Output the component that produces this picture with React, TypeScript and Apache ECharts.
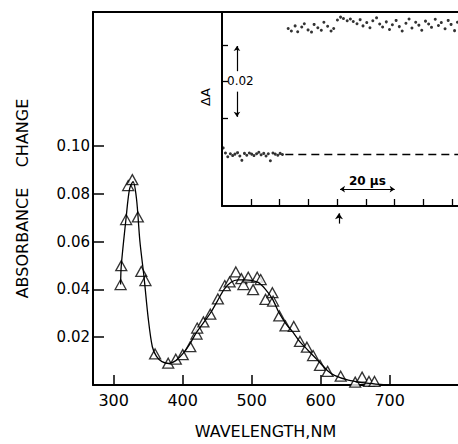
import React, { useEffect, useRef } from "react";
import * as echarts from "echarts";

// Main spectrum: triangles (measured points)
const wlTri = [310, 311, 318, 321, 327, 335, 340, 346, 360, 379, 390, 400, 411, 420, 421, 430, 440, 451, 461, 468, 477, 485, 488, 495, 502, 508, 513, 520, 530, 531, 540, 549, 561, 570, 580, 589, 599, 610, 629, 650, 660, 670, 678];
const absTri = [0.042, 0.0499, 0.0692, 0.0834, 0.0859, 0.0703, 0.0475, 0.0437, 0.013, 0.0091, 0.0108, 0.0127, 0.016, 0.0213, 0.0238, 0.0264, 0.0296, 0.036, 0.0416, 0.0431, 0.0473, 0.0445, 0.042, 0.0451, 0.0399, 0.0451, 0.0441, 0.0358, 0.0386, 0.0351, 0.0289, 0.0247, 0.0245, 0.0182, 0.0158, 0.0123, 0.0082, 0.0057, 0.0037, 0.0012, 0.0033, 0.0015, 0.0015];

// Main spectrum: drawn curve
const wlCurve = [310, 311, 318, 323, 328, 333, 338, 344, 350, 356, 362, 370, 380, 390, 400, 410, 420, 430, 440, 450, 460, 470, 480, 490, 500, 510, 520, 530, 540, 550, 560, 570, 580, 590, 600, 610, 620, 640, 660, 680, 695];
const absCurve = [0.042, 0.05, 0.07, 0.082, 0.085, 0.078, 0.06, 0.045, 0.028, 0.016, 0.012, 0.0098, 0.009, 0.0102, 0.013, 0.017, 0.022, 0.026, 0.030, 0.035, 0.040, 0.043, 0.044, 0.044, 0.0438, 0.0428, 0.040, 0.036, 0.030, 0.0255, 0.022, 0.018, 0.015, 0.012, 0.009, 0.006, 0.004, 0.002, 0.001, 0.0004, 0];

const xTicks = [300, 400, 500, 600, 700];
const yTicks = [0.02, 0.04, 0.06, 0.08, 0.1];

// Inset: transient trace (time in microseconds, delta A)
const baseT = [0.4, 1.2, 2.0, 2.9, 3.7, 4.5, 5.4, 6.2, 6.9, 7.8, 8.6, 9.5, 10.3, 11.1, 12.0, 12.8, 13.6, 14.5, 15.3, 16.1, 16.8, 17.7, 18.5, 19.4, 20.2, 21.0];
const baseV = [0.0018, 0.0004, -0.0006, 0.0002, -0.0003, 0.0001, 0.0005, -0.0004, -0.0016, 0.0003, -0.0002, 0.0004, 0.0001, -0.0003, 0.0002, 0.0006, -0.0001, 0.0003, -0.0004, 0.0002, -0.0017, 0.0004, 0.0001, -0.0002, 0.0003, 0.0];
const stepT = [23, 24.1, 25.4, 26.3, 27.7, 28.6, 29.9, 31.1, 32.0, 33.3, 34.5, 35.4, 36.7, 37.9, 38.8, 40.1, 41.2, 42.2, 43.5, 44.6, 45.6, 46.9, 48.0, 49.0, 50.3, 51.4, 52.4, 53.7, 54.8, 55.8, 57.1, 58.2, 59.2, 60.5, 61.6, 62.6, 63.9, 65.0, 66.0, 67.3, 68.4, 69.4, 70.7, 71.8, 72.8, 74.1, 75.2, 76.2, 77.5, 78.6, 79.6, 80.8, 81.8];
const stepV = [0.0345, 0.0338, 0.0352, 0.0336, 0.0349, 0.0358, 0.0341, 0.0335, 0.0356, 0.0347, 0.034, 0.0362, 0.0351, 0.0338, 0.0345, 0.0368, 0.0376, 0.0372, 0.0366, 0.0371, 0.0364, 0.0358, 0.0369, 0.0352, 0.0361, 0.0347, 0.0366, 0.0374, 0.0357, 0.0349, 0.0363, 0.0342, 0.0355, 0.0367, 0.035, 0.0338, 0.0359, 0.0371, 0.0346, 0.0362, 0.0354, 0.034, 0.0365, 0.0357, 0.0348, 0.037, 0.0353, 0.0361, 0.0344, 0.0367, 0.0356, 0.0339, 0.0362];
const dashT = [22, 82];
const dashV = [0, 0];
const insetYTicks = [0.01, 0.02, 0.03];
const insetXTicks = [10, 20, 30, 40, 50, 60, 70, 80];

const FONT = "DejaVu Sans";

export default function App() {
  const ref = useRef<HTMLDivElement>(null);
  useEffect(() => {
    if (!ref.current) return;
    const chart = echarts.init(ref.current, undefined, { renderer: "svg" });
    const axisLine = { show: true, onZero: false, lineStyle: { color: "#000", width: 2 } };
    const option: any = {
      animation: false,
      backgroundColor: "#fff",
      grid: [
        { left: 93, top: 12, right: 0, bottom: 56 },
        { left: 222, top: 12, right: 0, bottom: 238 },
      ],
      xAxis: [
        {
          type: "value", gridIndex: 0, min: 270, max: 799,
          axisLine,
          axisTick: { show: true, inside: true, length: 10, customValues: xTicks, lineStyle: { color: "#000", width: 1.5 } },
          axisLabel: { customValues: xTicks, color: "#000", fontFamily: FONT, fontSize: 16, margin: 7 },
          splitLine: { show: false },
          name: "WAVELENGTH,NM", nameLocation: "middle", nameGap: 38,
          nameTextStyle: { color: "#000", fontFamily: FONT, fontSize: 16, padding: [0, 20, 0, 0] },
        },
        {
          type: "value", gridIndex: 0, min: 270, max: 799, position: "top",
          axisLine, axisTick: { show: false }, axisLabel: { show: false }, splitLine: { show: false },
        },
        {
          type: "value", gridIndex: 1, min: 0, max: 82,
          axisLine,
          axisTick: { show: true, inside: true, length: 7, customValues: insetXTicks, lineStyle: { color: "#000", width: 1.3 } },
          axisLabel: { show: false },
          splitLine: { show: false },
        },
      ],
      yAxis: [
        {
          type: "value", gridIndex: 0, min: 0, max: 0.156,
          axisLine,
          axisTick: { show: true, inside: true, length: 11, customValues: yTicks, lineStyle: { color: "#000", width: 1.5 } },
          axisLabel: { customValues: yTicks, color: "#000", fontFamily: FONT, fontSize: 15, margin: 3, formatter: (v: number) => v.toFixed(2) },
          splitLine: { show: false },
          name: "ABSORBANCE    CHANGE", nameLocation: "middle", nameGap: 63, nameRotate: 90,
          nameTextStyle: { color: "#000", fontFamily: FONT, fontSize: 16 },
        },
        {
          type: "value", gridIndex: 1, min: -0.0141, max: 0.039,
          axisLine,
          axisTick: { show: true, inside: true, length: 6, customValues: insetYTicks, lineStyle: { color: "#000", width: 1.3 } },
          axisLabel: { inside: true, customValues: [0.02], color: "#000", fontFamily: FONT, fontSize: 12, margin: 5, formatter: (v: number) => v.toFixed(2) },
          splitLine: { show: false },
        },
      ],
      graphic: [
        {
          type: "text", x: 205, y: 97, rotation: Math.PI / 2,
          style: { text: "ΔA", fill: "#000", font: `13px "${FONT}"`, textAlign: "center", textVerticalAlign: "middle" },
        },
      ],
      series: [
        {
          type: "line", xAxisIndex: 0, yAxisIndex: 0,
          data: wlCurve.map((w, i) => [w, absCurve[i]]),
          smooth: 0.3, showSymbol: false,
          lineStyle: { color: "#000", width: 1.3 },
          markLine: {
            silent: true, symbol: ["none", "arrow"], symbolSize: 6,
            label: { show: false },
            lineStyle: { color: "#000", width: 1.2, type: "solid" },
            data: [[{ coord: [626.5, 0.0675] }, { coord: [626.5, 0.0718] }]],
          },
        },
        {
          type: "scatter", xAxisIndex: 0, yAxisIndex: 0,
          data: wlTri.map((w, i) => [w, absTri[i]]),
          symbol: "triangle", symbolSize: [11, 10],
          itemStyle: { color: "#fff", borderColor: "#000", borderWidth: 1.3 },
        },
        {
          type: "line", xAxisIndex: 2, yAxisIndex: 1,
          data: dashT.map((t, i) => [t, dashV[i]]),
          showSymbol: false,
          lineStyle: { color: "#000", width: 1.5, type: [8, 5] },
        },
        {
          type: "scatter", xAxisIndex: 2, yAxisIndex: 1,
          data: baseT.map((t, i) => [t, baseV[i]]),
          symbolSize: 3, itemStyle: { color: "#000" },
          markLine: {
            silent: true, symbol: ["none", "arrow"], symbolSize: 5,
            lineStyle: { color: "#000", width: 1.2, type: "solid" },
            label: { show: false },
            data: [
              [{ coord: [5.2, 0.0228] }, { coord: [5.2, 0.0297] }],
              [{ coord: [5.2, 0.0172] }, { coord: [5.2, 0.0103] }],
              [
                { coord: [41, -0.0095], symbol: "arrow", label: { show: true, position: "middle", formatter: "20 μs", color: "#000", fontFamily: FONT, fontSize: 12, fontWeight: "bold", distance: 2 } },
                { coord: [60, -0.0095], symbol: "arrow" },
              ],
            ],
          },
        },
        {
          type: "scatter", xAxisIndex: 2, yAxisIndex: 1,
          data: stepT.map((t, i) => [t, stepV[i]]),
          symbolSize: 3, itemStyle: { color: "#000" },
        },
      ],
    };
    chart.setOption(option);
    return () => chart.dispose();
  }, []);
  return <div ref={ref} style={{ position: "fixed", left: 0, top: 0, width: 458, height: 444 }} />;
}
